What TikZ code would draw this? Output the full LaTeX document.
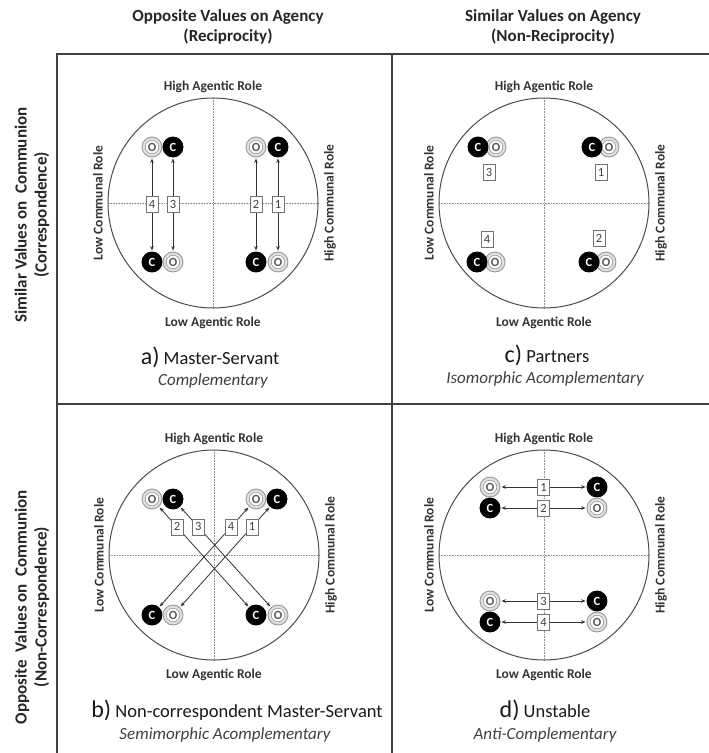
\documentclass[tikz,border=0pt]{standalone}
\usepackage{fontspec}
\setmainfont{Carlito}
\usetikzlibrary{arrows.meta}
\begin{document}
\begin{tikzpicture}[x=1pt,y=-1pt,
  frame/.style={line width=1.4pt, draw=black!75},
  ring/.style={line width=1pt, draw=black!70},
  axis/.style={densely dotted, draw=black!45, line width=0.6pt},
  axlab/.style={font=\fontsize{13.5}{14}\selectfont\bfseries, text=black!80, inner sep=0pt},
  head/.style={font=\fontsize{17}{20}\selectfont\bfseries, text=black!85, align=center, inner sep=0pt},
  onode/.style={circle, minimum size=20pt, inner sep=0pt, draw=black!40, line width=0.9pt, fill=black!12,
    font=\fontsize{12.5}{12}\selectfont\bfseries, text=black!65,
    path picture={\draw[black!45, fill=white, line width=0.5pt] (path picture bounding box.center) circle (6.8pt);}},
  cnode/.style={circle, minimum size=20pt, inner sep=0pt, fill=black, draw=black, line width=0.9pt,
    font=\fontsize{12.5}{12}\selectfont\bfseries, text=white},
  lbox/.style={rectangle, draw=black!55, fill=white, line width=0.6pt, inner sep=1.2pt, minimum width=12pt,
    minimum height=16pt, font=\fontsize{12.5}{12}\selectfont, text=black!75},
  arr/.style={{Stealth[length=4.5pt,width=3.5pt]}-{Stealth[length=4.5pt,width=3.5pt]}, draw=black!80,
    line width=0.8pt, shorten <=1pt, shorten >=1pt},
  ptitle/.style={font=\fontsize{18.5}{18}\selectfont, text=black!90, inner sep=0pt},
  psub/.style={font=\fontsize{17}{17}\selectfont\itshape, text=black!75, inner sep=0pt}
]
\useasboundingbox (0,0) rectangle (709,753);

% outer frame
\draw[frame] (57,753) -- (57,54) -- (709,54);
\draw[frame] (392,54) -- (392,753);
\draw[frame] (57,404) -- (709,404);

% headings
\node[head] (hA) at (228,27) {Opposite Values on Agency\\(Reciprocity)};
\node[head] (hS) at (553,27) {Similar Values on Agency\\(Non-Reciprocity)};
\node[head, rotate=90] (vS) at (32,215) {Similar Values on\ \ Communion\\(Correspondence)};
\node[head, rotate=90] (vO) at (32,607) {Opposite\ \ Values on\ \ Communion\\(Non-Correspondence)};

% quadrant frames
\foreach \cx/\cy/\n in {213/203/a, 544/203/c, 214/555/b, 544/555/d}{
  \draw[axis] (\cx,\cy-105) -- (\cx,\cy+105);
  \draw[axis] (\cx-105,\cy) -- (\cx+105,\cy);
  \draw[ring] (\cx,\cy) circle (105pt);
  \node[axlab] (\n HA) at (\cx,\cy-116) {High Agentic Role};
  \node[axlab] (\n LA) at (\cx,\cy+120) {Low Agentic Role};
  \node[axlab, rotate=90] (\n LC) at (\cx-115,\cy) {Low Communal Role};
  \node[axlab, rotate=90] (\n HC) at (\cx+117,\cy) {High Communal Role};
}

% panel titles
\node[ptitle] (aT) at (210,357) {{\fontsize{24}{24}\selectfont a)} Master-Servant};
\node[psub] (aS) at (213,381) {Complementary};
\node[ptitle] (cT) at (547,355) {{\fontsize{24}{24}\selectfont c)} Partners};
\node[psub] (cS) at (545,379) {Isomorphic Acomplementary};
\node[ptitle] (bT) at (237,710) {{\fontsize{24}{24}\selectfont b)} Non-correspondent Master-Servant};
\node[psub] (bS) at (225,735) {Semimorphic Acomplementary};
\node[ptitle] (dT) at (545,710) {{\fontsize{24}{24}\selectfont d)} Unstable};
\node[psub] (dS) at (545,735) {Anti-Complementary};

% ---- panel a
\node[onode] (aO1) at (152,147) {O};
\node[cnode] (aC1) at (173,147) {C};
\node[onode] (aO2) at (256,147) {O};
\node[cnode] (aC2) at (278,147) {C};
\node[cnode] (aC3) at (152,262) {C};
\node[onode] (aO3) at (173,262) {O};
\node[cnode] (aC4) at (256,262) {C};
\node[onode] (aO4) at (278,262) {O};
\draw[arr] (aO1) -- node[lbox] (aL4) {4} (aC3);
\draw[arr] (aC1) -- node[lbox] (aL3) {3} (aO3);
\draw[arr] (aO2) -- node[lbox] (aL2) {2} (aC4);
\draw[arr] (aC2) -- node[lbox] (aL1) {1} (aO4);

% ---- panel b
\node[onode] (bO1) at (152,499) {O};
\node[cnode] (bC1) at (173,499) {C};
\node[onode] (bO2) at (256,499) {O};
\node[cnode] (bC2) at (277,499) {C};
\node[cnode] (bC3) at (152,615) {C};
\node[onode] (bO3) at (173,615) {O};
\node[cnode] (bC4) at (256,615) {C};
\node[onode] (bO4) at (278,615) {O};
\draw[arr] (bO1) -- node[lbox, pos=0.2] (bL2) {2} (bC4);
\draw[arr] (bC1) -- node[lbox, pos=0.2] (bL3) {3} (bO4);
\draw[arr] (bO2) -- node[lbox, pos=0.2] (bL4) {4} (bC3);
\draw[arr] (bC2) -- node[lbox, pos=0.2] (bL1) {1} (bO3);

% ---- panel c
\node[onode] (cO3) at (496,147) {O};
\node[cnode] (cC3) at (478,147) {C};
\node[onode] (cO1) at (609,147) {O};
\node[cnode] (cC1) at (592,147) {C};
\node[onode] (cO4) at (495,262) {O};
\node[cnode] (cC4) at (477,262) {C};
\node[onode] (cO2) at (606,262) {O};
\node[cnode] (cC2) at (589,262) {C};
\node[lbox] (cL3) at (489,172) {3};
\node[lbox] (cL1) at (601,172) {1};
\node[lbox] (cL4) at (487,239) {4};
\node[lbox] (cL2) at (599,238) {2};

% ---- panel d
\node[onode] (dO1) at (490,487) {O};
\node[cnode] (dC1) at (597,487) {C};
\node[cnode] (dC2) at (490,508) {C};
\node[onode] (dO2) at (597,508) {O};
\node[onode] (dO3) at (490,601) {O};
\node[cnode] (dC3) at (597,601) {C};
\node[cnode] (dC4) at (490,622) {C};
\node[onode] (dO4) at (597,622) {O};
\draw[arr] (dO1) -- node[lbox] (dL1) {1} (dC1);
\draw[arr] (dC2) -- node[lbox] (dL2) {2} (dO2);
\draw[arr] (dO3) -- node[lbox] (dL3) {3} (dC3);
\draw[arr] (dC4) -- node[lbox] (dL4) {4} (dO4);
\end{tikzpicture}
\end{document}
